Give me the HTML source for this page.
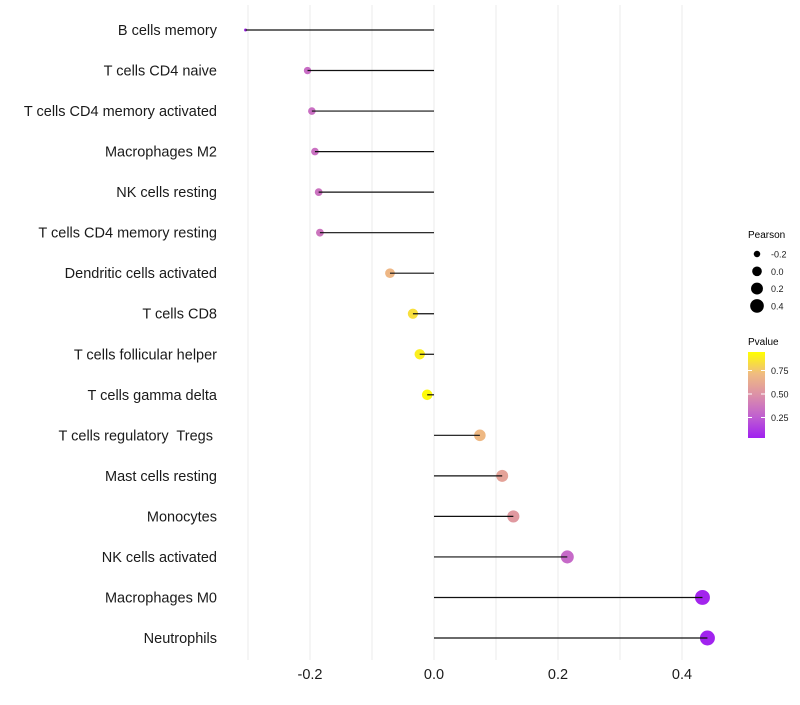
<!DOCTYPE html>
<html><head><meta charset="utf-8"><style>
body{margin:0;background:#fff;font-family:"Liberation Sans",sans-serif}
svg text{font-family:"Liberation Sans",sans-serif;white-space:pre}
</style></head><body>
<svg id="chart" width="800" height="700" xmlns="http://www.w3.org/2000/svg">
<defs><linearGradient id="pg" x1="0" y1="1" x2="0" y2="0">
<stop offset="0" stop-color="#a020f0"/><stop offset="0.25" stop-color="#c060d0"/><stop offset="0.5" stop-color="#dc90a8"/><stop offset="0.75" stop-color="#f0bc80"/><stop offset="1" stop-color="#ffff00"/>
</linearGradient></defs>
<g id="grid"></g>
<g id="marks"></g>
<g id="ylabels"></g>
<g id="xlabels"></g>
<g>
<text x="748" y="238" font-size="10" fill="#000">Pearson</text>
<g id="sizeleg"></g>
</g>
<g>
<text x="748" y="345" font-size="10" fill="#000">Pvalue</text>
<rect x="748" y="352" width="17" height="86" fill="url(#pg)"/>
<g id="colleg"></g>
</g>
</svg>
<script>
const categories=["B cells memory","T cells CD4 naive","T cells CD4 memory activated","Macrophages M2","NK cells resting","T cells CD4 memory resting","Dendritic cells activated","T cells CD8","T cells follicular helper","T cells gamma delta","T cells regulatory  Tregs ","Mast cells resting","Monocytes","NK cells activated","Macrophages M0","Neutrophils"];
const pearson=[-0.304,-0.204,-0.197,-0.192,-0.186,-0.184,-0.071,-0.034,-0.023,-0.011,0.074,0.11,0.128,0.215,0.433,0.441];
const pvalue=[0.03,0.32,0.33,0.34,0.35,0.36,0.72,0.88,0.94,0.98,0.73,0.6,0.55,0.3,0.02,0.01];
const xTicks=[-0.2,0.0,0.2,0.4];
const xTickLabels=["-0.2","0.0","0.2","0.4"];
const sizeLegVals=[-0.2,0.0,0.2,0.4];
const sizeLegLabels=["-0.2","0.0","0.2","0.4"];
const colLegVals=[0.75,0.5,0.25];
const colLegLabels=["0.75","0.50","0.25"];

const NS="http://www.w3.org/2000/svg";
const x=v=>434+v*620;
const y=i=>30+i*(608/15);
const r=v=>1.5+6*Math.sqrt(Math.max(0,(v+0.304)/0.745));
const stops=[[0,[160,32,240]],[0.25,[192,96,208]],[0.5,[220,144,168]],[0.75,[240,188,128]],[1,[255,255,0]]];
function col(p){for(let k=1;k<stops.length;k++){if(p<=stops[k][0]){const a=stops[k-1],b=stops[k],t=(p-a[0])/(b[0]-a[0]);return "rgb("+a[1].map((c,j)=>Math.round(c+(b[1][j]-c)*t)).join(",")+")";}}return "rgb(255,255,0)";}
function mk(tag,attrs,parent){const e=document.createElementNS(NS,tag);for(const k in attrs)e.setAttribute(k,attrs[k]);parent.appendChild(e);return e;}
const grid=document.getElementById("grid"),marks=document.getElementById("marks"),yl=document.getElementById("ylabels"),xl=document.getElementById("xlabels");
for(let v=-0.3;v<=0.41;v+=0.1){const g=mk("line",{x1:x(v),x2:x(v),y1:5,y2:660,stroke:"#ebebeb","stroke-width":1},grid);

}
categories.forEach((c,i)=>{
const t=mk("text",{x:217,y:y(i)+5,"text-anchor":"end","font-size":"14.5",fill:"#1a1a1a"},yl);t.textContent=c;


const pt=mk("circle",{cx:x(pearson[i]),cy:y(i),r:r(pearson[i]),fill:col(pvalue[i])},marks);


const ln=mk("line",{x1:x(0),x2:x(pearson[i]),y1:y(i),y2:y(i),stroke:"#111","stroke-width":1.2},marks);


});
xTicks.forEach((v,i)=>{const t=mk("text",{x:x(v),y:679,"text-anchor":"middle","font-size":"14.5",fill:"#1a1a1a"},xl);t.textContent=xTickLabels[i];

});
const sl=document.getElementById("sizeleg");
sizeLegVals.forEach((v,i)=>{const cy=254+i*17.3;
const c=mk("circle",{cx:757,cy:cy,r:r(v)-0.5,fill:"#000"},sl);


const t=mk("text",{x:771,y:cy+3.5,"font-size":"9",fill:"#1a1a1a"},sl);t.textContent=sizeLegLabels[i];

});
const cl=document.getElementById("colleg");
colLegVals.forEach((v,i)=>{const cy=441-v*94;
const l=mk("line",{x1:748,x2:752,y1:cy,y2:cy,stroke:"#fff","stroke-width":1},cl);


const l2=mk("line",{x1:761,x2:765,y1:cy,y2:cy,stroke:"#fff","stroke-width":1},cl);


const t=mk("text",{x:771,y:cy+3.5,"font-size":"9",fill:"#1a1a1a"},cl);t.textContent=colLegLabels[i];

});
</script>
</body></html>
